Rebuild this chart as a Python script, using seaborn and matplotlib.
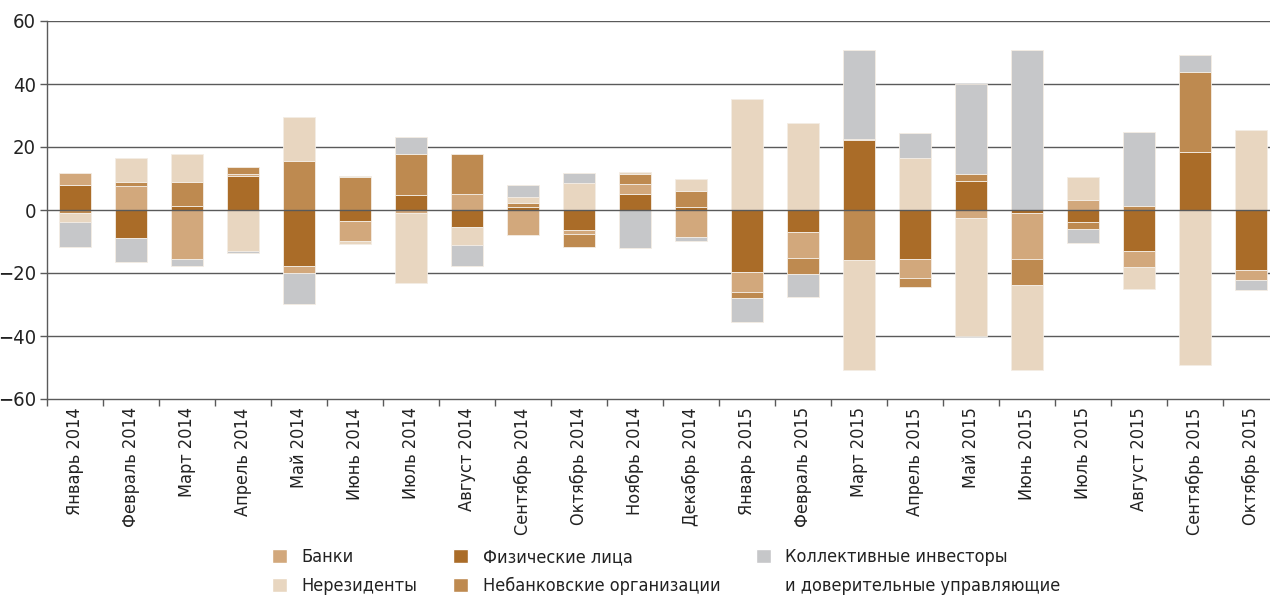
import numpy as np
import pandas as pd
import seaborn as sns
import matplotlib.pyplot as plt
from matplotlib.patches import Patch
from matplotlib.ticker import FixedLocator
from matplotlib import font_manager

# --- data (% of net flows) ---
months = ["Январь 2014", "Февраль 2014", "Март 2014", "Апрель 2014", "Май 2014",
          "Июнь 2014", "Июль 2014", "Август 2014", "Сентябрь 2014", "Октябрь 2014",
          "Ноябрь 2014", "Декабрь 2014", "Январь 2015", "Февраль 2015", "Март 2015",
          "Апрель 2015", "Май 2015", "Июнь 2015", "Июль 2015", "Август 2015",
          "Сентябрь 2015", "Октябрь 2015"]

fiz = [7.8, -9.0, 1.2, 10.8, -17.9, -3.5, 4.7, -5.5, 0.9, -6.3, 5.0,
       0.8, -19.6, -7.1, 22.2, -15.6, 9.3, -1.0, -3.7, -12.9, 18.4, -18.9]
banki = [4.1, 7.5, -15.7, 0.7, -2.0, -6.3, -1.0, 5.0, -8.0, -1.3, 3.1,
         -8.7, -6.5, -8.1, 0.4, -6.1, -2.5, -14.6, 3.1, -5.3, 0.0, -3.4]
nebank = [-0.85, 1.5, 7.6, 2.2, 15.4, 10.4, 13.2, 12.9, 1.2, -4.1, 3.2,
          5.3, -1.9, -5.2, -16.0, -2.9, 2.0, -8.3, -2.3, 1.2, 25.5, 0.0]
nerez = [-2.9, 7.4, 8.9, -13.1, 14.2, -1.0, -22.2, -5.7, 1.9, 8.7, 0.8,
         3.7, 35.2, 27.6, -34.9, 16.4, -37.6, -27.0, 7.4, -6.9, -49.1, 25.3]
kollekt = [-8.1, -7.4, -2.1, -0.6, -9.8, 0.3, 5.3, -6.7, 4.0, 3.0, -12.2,
           -1.1, -7.4, -7.2, 28.3, 8.2, 28.6, 50.9, -4.5, 23.7, 5.2, -3.1]

# stacking order from zero outward
series = [
    ("Физические лица", fiz, "#aa6c28"),
    ("Банки", banki, "#d2a87c"),
    ("Небанковские организации", nebank, "#be8a50"),
    ("Нерезиденты", nerez, "#e8d6c0"),
    ("Коллективные инвесторы", kollekt, "#c6c7c9"),
]

sns.set_theme(style="white")
# narrow font if there is one
condensed = any("Condensed" in f.fname
                for f in font_manager.fontManager.ttflist if f.name == "DejaVu Sans")
plt.rcParams["font.family"] = ["DejaVu Sans"]
plt.rcParams["font.stretch"] = "condensed"
FS = 13 if condensed else 11.5

fig = plt.figure(figsize=(12.7, 5.95), dpi=100)
ax = fig.add_axes([47 / 1270, 1 - 399 / 595, 1 - 47 / 1270, (399 - 21) / 595])

pos_cum = np.zeros(len(months))
neg_cum = np.zeros(len(months))
for name, vals, col in series:
    v = np.array(vals, dtype=float)
    bottom = np.where(v >= 0, pos_cum, neg_cum)
    df = pd.DataFrame({"month": months, "value": v})
    sns.barplot(data=df, x="month", y="value", order=months, color=col,
                saturation=1, width=0.57, bottom=bottom, errorbar=None,
                edgecolor="#f4ede4", linewidth=0.6, ax=ax, zorder=2)
    pos_cum += np.where(v >= 0, v, 0)
    neg_cum += np.where(v < 0, v, 0)

ax.set_ylim(-60, 60)
ax.set_xlim(-0.5, 21.34)
ax.set_yticks(np.arange(-60, 61, 20))
ax.set_xlabel("")
ax.set_ylabel("")

# gridlines behind bars, zero line on top
for yv in range(-40, 61, 20):
    if yv == 0:
        continue
    ax.axhline(yv, color="#5a5a5a", lw=1.0, zorder=0)
ax.axhline(0, color="#5a5a5a", lw=1.0, zorder=5)

for s in ["top", "right"]:
    ax.spines[s].set_visible(False)
for s in ["left", "bottom"]:
    ax.spines[s].set_color("#5a5a5a")
    ax.spines[s].set_linewidth(1.0)

ax.tick_params(axis="y", which="major", direction="out", length=5, width=1,
               color="#5a5a5a", labelsize=FS + 1.5, labelcolor="#222222", pad=3, left=True)
ax.xaxis.set_minor_locator(FixedLocator(np.arange(-0.5, 22, 1)))
ax.tick_params(axis="x", which="major", length=0, labelsize=FS,
               labelcolor="#222222", pad=6, labelrotation=90)
ax.tick_params(axis="x", which="minor", direction="out", length=5, width=1,
               color="#5a5a5a", bottom=True)

# legend
handles = [
    Patch(facecolor="#d2a87c", label="Банки"),
    Patch(facecolor="#e8d6c0", label="Нерезиденты"),
    Patch(facecolor="#aa6c28", label="Физические лица"),
    Patch(facecolor="#be8a50", label="Небанковские организации"),
    Patch(facecolor="#c6c7c9", label="Коллективные инвесторы"),
    Patch(facecolor="none", edgecolor="none", label="и доверительные управляющие"),
]
fig.legend(handles=handles, ncol=3, loc="upper left",
           bbox_to_anchor=(272 / 1270, 1 - 548 / 595), frameon=False,
           fontsize=FS, handlelength=0.85, handleheight=0.85, handletextpad=0.8,
           columnspacing=1.95, labelspacing=0.62, borderpad=0, borderaxespad=0,
           labelcolor="#222222")

fig.savefig("out.png", dpi=100)
